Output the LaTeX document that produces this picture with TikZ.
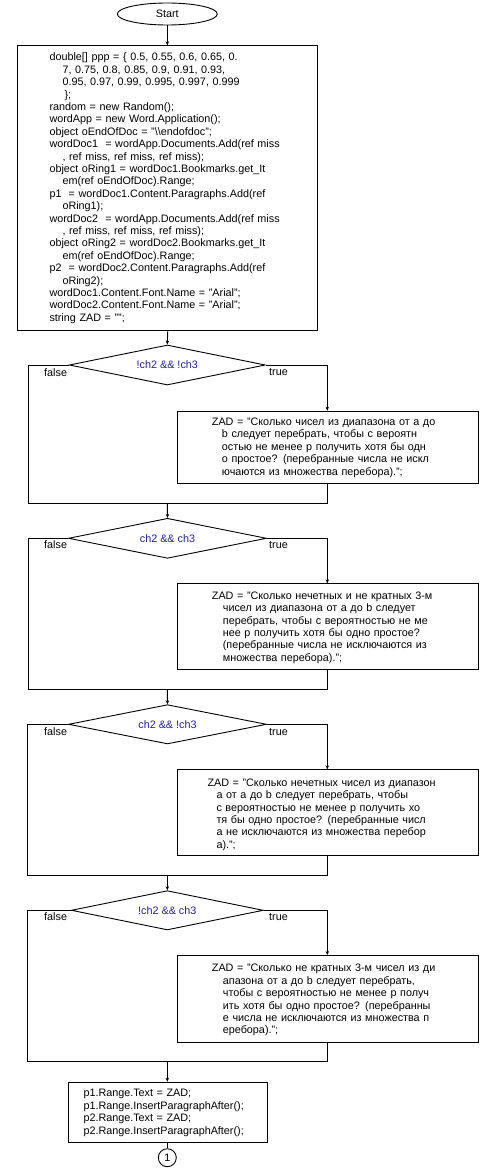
\documentclass[tikz,border=0pt]{standalone}
\usepackage{fontspec}
\setmainfont{Liberation Sans}
\usetikzlibrary{shapes.geometric,arrows.meta}
\definecolor{condblue}{RGB}{35,35,135}
\begin{document}
\begin{tikzpicture}[x=1pt,y=-1pt,
  line/.style={line width=0.9pt},
  arr/.style={line width=0.9pt,-{Stealth[length=4pt,width=3.5pt]}},
  box/.style={draw, line width=0.9pt, rectangle, inner sep=0pt, anchor=north west},
  cond/.style={draw, diamond, line width=0.9pt, inner sep=0pt, aspect=5, text=condblue, font=\fontsize{10.8}{12}\selectfont},
  code/.style={anchor=north west, inner sep=0pt, align=left, text width=285pt, font=\fontsize{10.8}{12.4}\selectfont},
  lbl/.style={inner sep=0pt, anchor=west, font=\fontsize{10.8}{12}\selectfont},
]
\fill[white] (0,0) rectangle (498,1172);
\useasboundingbox (0,0) rectangle (498,1172);

% start
\node[draw, ellipse, line width=0.9pt, minimum width=100pt, minimum height=22pt, inner sep=0pt, font=\fontsize{10.8}{12}\selectfont] (start) at (167.3,14) {Start};

% box 1
\node[box, minimum width=300pt, minimum height=284.7pt] (b1) at (17.3,45.3) {};
\node[code] (t1) at (49.3,51.7) {\rule{0pt}{9pt}double[] ppp = \{ 0.5, 0.55, 0.6, 0.65, 0.\\
\hspace*{13pt}7, 0.75, 0.8, 0.85, 0.9, 0.91, 0.93,\\
\hspace*{13pt}0.95, 0.97, 0.99, 0.995, 0.997, 0.999\\
\hspace*{15pt}\};\\
random = new Random();\\
wordApp = new Word.Application();\\
object oEndOfDoc = "\textbackslash\textbackslash endofdoc";\\
wordDoc1~ = wordApp.Documents.Add(ref miss\\
\hspace*{13pt}, ref miss, ref miss, ref miss);\\
object oRing1 = wordDoc1.Bookmarks.get\_It\\
\hspace*{13pt}em(ref oEndOfDoc).Range;\\
p1~ = wordDoc1.Content.Paragraphs.Add(ref\\
\hspace*{13pt}oRing1);\\
wordDoc2~ = wordApp.Documents.Add(ref miss\\
\hspace*{13pt}, ref miss, ref miss, ref miss);\\
object oRing2 = wordDoc2.Bookmarks.get\_It\\
\hspace*{13pt}em(ref oEndOfDoc).Range;\\
p2~ = wordDoc2.Content.Paragraphs.Add(ref\\
\hspace*{13pt}oRing2);\\
wordDoc1.Content.Font.Name = "Arial";\\
wordDoc2.Content.Font.Name = "Arial";\\
string ZAD = "";};

% decision 1
\node[cond, minimum width=196pt, minimum height=40pt] (d1) at (167.3,365) {!ch2 \&\& !ch3};
\node[lbl] (f1l) at (44,372.3) {false};
\node[lbl] (t1l) at (269,372.3) {true};
\node[box, minimum width=300.4pt, minimum height=72pt] (b2) at (177.3,410.7) {};
\node[code] (t2) at (211.7,416.3) {\rule{0pt}{9pt}ZAD = "Сколько чисел из диапазона от a до\\
\hspace*{10pt}b следует перебрать, чтобы с вероятн\\
\hspace*{10pt}остью не менее p получить хотя бы одн\\
\hspace*{10pt}о простое? (перебранные числа не искл\\
\hspace*{10pt}ючаются из множества перебора).";};
\coordinate (f1) at (28.7,503.3);
\coordinate (r1) at (327.3,503.3);
\coordinate (m1) at (167.3,503.3);
\draw[arr] (d1.east) -| (b2.north -| r1);
\draw[line] (d1.west) -| (f1) -- (r1) -- (b2.south -| r1);

% decision 2
\node[cond, minimum width=198pt, minimum height=40pt] (d2) at (167.5,538.3) {ch2 \&\& ch3};
\draw[arr] (m1) -- (d2.north);
\node[lbl] (f2l) at (44,545) {false};
\node[lbl] (t2l) at (269,545) {true};
\node[box, minimum width=300.4pt, minimum height=86pt] (b3) at (177.3,583.3) {};
\node[code] (t3) at (211.7,590) {\rule{0pt}{9pt}ZAD = "Сколько нечетных и не кратных 3-м\\
\hspace*{11pt}чисел из диапазона от a до b следует\\
\hspace*{11pt}перебрать, чтобы с вероятностью не ме\\
\hspace*{11pt}нее p получить хотя бы одно простое?\\
\hspace*{11pt}(перебранные числа не исключаются из\\
\hspace*{11pt}множества перебора).";};
\coordinate (f2) at (28.7,689);
\coordinate (r2) at (327.3,689);
\coordinate (m2) at (167.3,689);
\draw[arr] (d2.east) -| (b3.north -| r2);
\draw[line] (d2.west) -| (f2) -- (r2) -- (b3.south -| r2);

% decision 3
\node[cond, minimum width=198pt, minimum height=39.3pt] (d3) at (167.5,724.3) {ch2 \&\& !ch3};
\draw[arr] (m2) -- (d3.north);
\node[lbl] (f3l) at (44,732) {false};
\node[lbl] (t3l) at (269,732) {true};
\node[box, minimum width=300.4pt, minimum height=86pt] (b4) at (177.3,769.3) {};
\node[code] (t4) at (207.3,777) {\rule{0pt}{9pt}ZAD = "Сколько нечетных чисел из диапазон\\
\hspace*{9pt}а от a до b следует перебрать, чтобы\\
\hspace*{9pt}с вероятностью не менее p получить хо\\
\hspace*{9pt}тя бы одно простое? (перебранные числ\\
\hspace*{9pt}а не исключаются из множества перебор\\
\hspace*{9pt}а).";};
\coordinate (f3) at (27.3,875);
\coordinate (r3) at (327.3,875);
\coordinate (m3) at (167.3,875);
\draw[arr] (d3.east) -| (b4.north -| r3);
\draw[line] (d3.west) -| (f3) -- (r3) -- (b4.south -| r3);

% decision 4
\node[cond, minimum width=192pt, minimum height=39.3pt] (d4) at (167.3,910.3) {!ch2 \&\& ch3};
\draw[arr] (m3) -- (d4.north);
\node[lbl] (f4l) at (44,916.7) {false};
\node[lbl] (t4l) at (269,916.7) {true};
\node[box, minimum width=300.4pt, minimum height=86.7pt] (b5) at (177.3,955) {};
\node[code] (t5) at (211.7,962.6) {\rule{0pt}{9pt}ZAD = "Сколько не кратных 3-м чисел из ди\\
\hspace*{11pt}апазона от a до b следует перебрать,\\
\hspace*{11pt}чтобы с вероятностью не менее p получ\\
\hspace*{11pt}ить хотя бы одно простое? (перебранны\\
\hspace*{11pt}е числа не исключаются из множества п\\
\hspace*{11pt}еребора).";};
\coordinate (f4) at (27.3,1061);
\coordinate (r4) at (327.3,1061);
\coordinate (m4) at (167.3,1061);
\draw[arr] (d4.east) -| (b5.north -| r4);
\draw[line] (d4.west) -| (f4) -- (r4) -- (b5.south -| r4);

% final box
\node[box, minimum width=199.6pt, minimum height=60.6pt] (b6) at (67.7,1081.7) {};
\node[code] (t6) at (83.3,1087.6) {\rule{0pt}{9pt}p1.Range.Text = ZAD;\\
p1.Range.InsertParagraphAfter();\\
p2.Range.Text = ZAD;\\
p2.Range.InsertParagraphAfter();};
\draw[arr] (m4) -- (b6.north -| m4);
\node[draw, circle, line width=0.9pt, minimum size=18pt, inner sep=0pt, font=\fontsize{10.8}{12}\selectfont] (c1) at (167.3,1157.7) {1};
\draw[line] (b6.south -| c1) -- (c1.north);

% top connectors
\draw[arr] (start.south) -- (b1.north -| start);
\draw[arr] (b1.south) -- (d1.north);
\end{tikzpicture}
\end{document}
